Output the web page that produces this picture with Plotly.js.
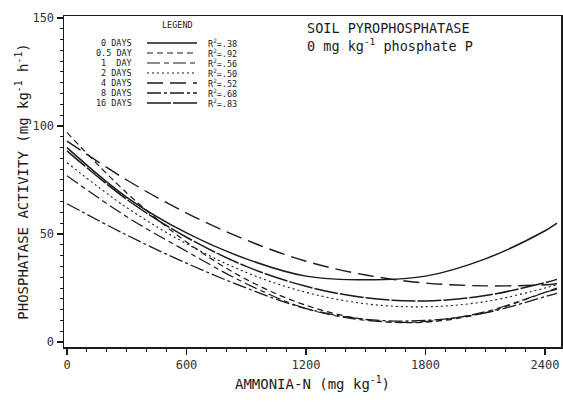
<!DOCTYPE html>
<html>
<head>
<meta charset="utf-8">
<script src="https://cdn.plot.ly/plotly-3.0.1.min.js"></script>
<style>
  html, body { margin: 0; padding: 0; background: #fff; }
  #chart { width: 563px; height: 402px; }
</style>
</head>
<body>
<div id="chart"></div>
<script>
// Ammonia-N levels (mg kg-1) at which each fitted curve is sampled
const ammoniaN = [0, 300, 600, 900, 1200, 1500, 1800, 2100, 2400, 2460];

// Fitted phosphatase activity (mg kg-1 h-1) for each incubation time
const days0   = [90, 67, 50.5, 38.5, 30.5, 28.8, 30.5, 38.5, 51.5, 55];
const days05  = [97, 69, 46.3, 29, 17, 10.4, 9.2, 13.6, 23, 25];
const days1   = [77, 58, 42, 27, 15.5, 10, 9.5, 14, 23, 24.5];
const days2   = [83, 62.2, 45.5, 32.2, 23, 17.7, 16.3, 18.7, 25, 26.5];
const days4   = [93, 75, 59.7, 47.2, 37.4, 31, 27.3, 26, 26.5, 27];
const days8   = [64, 49.5, 36.5, 25, 15.5, 10.5, 10, 13.5, 21, 22.5];
const days16  = [88.5, 66, 48.5, 35, 25.8, 20.5, 19, 21.5, 27.5, 29];

// Legend rows: label, coefficient of determination
const seriesLabels = ["0 DAYS", "0.5 DAY", "1  DAY", "2 DAYS", "4 DAYS", "8 DAYS", "16 DAYS"];
const rSquared = [".38", ".92", ".56", ".50", ".52", ".68", ".83"];

// Axis ticks
const xTickVals = [0, 600, 1200, 1800, 2400];
const xTickText = ["0", "600", "1200", "1800", "2400"];
const yTickVals = [0, 50, 100, 150];

const seriesValues = [days0, days05, days1, days2, days4, days8, days16];
const dashes = ["solid", "6px,4px", "13px,4px,5px,4px", "2px,3px", "16px,7px", "14px,3px,3px,3px", "24px,2px"];
const widths = [1.5, 1.2, 1.2, 1.1, 1.4, 1.3, 1.5];

const mono = "DejaVu Sans Mono, Liberation Mono, monospace";
const ink = "#1a1a1a";

const traces = seriesValues.map((vals, i) => ({
  x: ammoniaN,
  y: vals,
  type: "scatter",
  mode: "lines",
  line: { color: ink, width: widths[i], dash: dashes[i], shape: "spline", smoothing: 1 },
  showlegend: false,
  hoverinfo: "skip"
}));

// Plot box in page pixels
const box = { l: 64, t: 16, w: 497, h: 331 };
const px = (x) => (x - box.l) / box.w;
const py = (y) => (box.t + box.h - y) / box.h;

const shapes = [];
const annotations = [];

annotations.push({
  xref: "paper", yref: "paper", x: px(177), y: py(25),
  xanchor: "center", yanchor: "middle", showarrow: false,
  text: "LEGEND", font: { family: mono, size: 8.5, color: ink }
});

const rowY = [43, 53, 63, 73, 83, 93, 103];
seriesLabels.forEach((lab, i) => {
  annotations.push({
    xref: "paper", yref: "paper", x: px(134), y: py(rowY[i]),
    xanchor: "right", yanchor: "middle", showarrow: false,
    text: lab, font: { family: mono, size: 8.5, color: ink }
  });
  annotations.push({
    xref: "paper", yref: "paper", x: px(206), y: py(rowY[i]),
    xanchor: "left", yanchor: "middle", showarrow: false,
    text: "R<sup>2</sup>=" + rSquared[i], font: { family: mono, size: 8.5, color: ink }
  });
  shapes.push({
    type: "line", xref: "paper", yref: "paper",
    x0: px(147), x1: px(197), y0: py(rowY[i]), y1: py(rowY[i]),
    line: { color: ink, width: widths[i], dash: dashes[i] }
  });
});

annotations.push({
  xref: "paper", yref: "paper", x: px(305), y: py(28),
  xanchor: "left", yanchor: "middle", showarrow: false,
  text: "SOIL PYROPHOSPHATASE", font: { family: mono, size: 13.5, color: ink }
});
annotations.push({
  xref: "paper", yref: "paper", x: px(305), y: py(45),
  xanchor: "left", yanchor: "middle", showarrow: false,
  text: "0 mg kg<sup>-1</sup> phosphate P", font: { family: mono, size: 13.5, color: ink }
});

const layout = {
  width: 563,
  height: 402,
  margin: { l: box.l, r: 563 - box.l - box.w, t: box.t, b: 402 - box.t - box.h, pad: 0 },
  paper_bgcolor: "#fff",
  plot_bgcolor: "#fff",
  showlegend: false,
  xaxis: {
    range: [-15, 2480],
    tickmode: "array", tickvals: xTickVals, ticktext: xTickText,
    ticks: "outside", ticklen: 6, tickwidth: 1.2, tickcolor: ink,
    minor: { dtick: 100, tick0: 0, ticks: "outside", ticklen: 3, tickwidth: 1, tickcolor: ink, showgrid: false },
    showgrid: false, zeroline: false,
    showline: true, linecolor: ink, linewidth: 1.5, mirror: true,
    tickfont: { family: mono, size: 12, color: "#333" },
    title: { text: "AMMONIA-N (mg kg<sup>-1</sup>)", font: { family: mono, size: 14, color: ink }, standoff: 8 },
    automargin: false
  },
  yaxis: {
    range: [-2.3, 150.9],
    tickmode: "array", tickvals: yTickVals,
    ticks: "outside", ticklen: 6, tickwidth: 1.2, tickcolor: ink,
    minor: { dtick: 5, tick0: 0, ticks: "outside", ticklen: 3, tickwidth: 1, tickcolor: ink, showgrid: false },
    showgrid: false, zeroline: false,
    showline: true, linecolor: ink, linewidth: 1.5, mirror: true,
    tickfont: { family: mono, size: 12, color: "#333" },
    title: { text: "PHOSPHATASE ACTIVITY (mg kg<sup>-1</sup> h<sup>-1</sup>)", font: { family: mono, size: 14, color: ink }, standoff: 0 },
    automargin: false
  },
  shapes: shapes,
  annotations: annotations
};

Plotly.newPlot("chart", traces, layout, { displayModeBar: false, staticPlot: true });
</script>
</body>
</html>
